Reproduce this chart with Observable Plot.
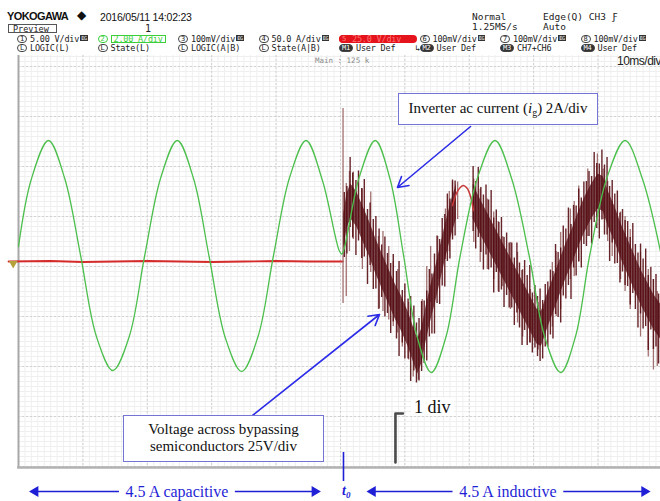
<!DOCTYPE html>
<html><head><meta charset="utf-8">
<script src="https://cdn.jsdelivr.net/npm/d3@7"></script>
<script src="https://cdn.jsdelivr.net/npm/@observablehq/plot@0.6"></script>
<style>
body{margin:0;background:#fff;overflow:hidden}
#wrap{position:relative;width:660px;height:501px;overflow:hidden;background:#fff}
.a{position:absolute;white-space:nowrap;line-height:1}
.m{font-family:"DejaVu Sans Mono",monospace;font-size:9px;color:#222}
.slot{position:absolute;white-space:nowrap;font-family:"DejaVu Sans Mono",monospace;font-size:8.5px;line-height:8px;height:8px;color:#222;letter-spacing:-0.2px}
.badge{display:inline-block;border:1px solid #444;border-radius:4px;font-size:7px;line-height:6px;height:6px;padding:0 2px;margin-right:3px;vertical-align:top}
.icon{display:inline-block;background:#333;color:#fff;font-size:5px;line-height:6px;height:6px;padding:0 1px;margin-left:1px;vertical-align:top}
.serif{font-family:"Liberation Serif","Times New Roman",serif;color:#111}
.box{position:absolute;background:#fff;border:1.5px solid #7474d6;box-sizing:border-box;text-align:center}
</style></head><body>
<div id="wrap">
  <div id="header"></div>
  <div id="chart" style="position:absolute;left:0;top:55px;width:660px"></div>
  <div class="a" style="left:315px;top:57px;font-family:'DejaVu Sans Mono',monospace;font-size:7.5px;color:#8a8a8a">Main : 125 k</div>
  <div class="a" style="left:617px;top:55px;font-family:'Liberation Sans',sans-serif;font-size:12px;letter-spacing:-0.5px;color:#222">10ms/div</div>
  <div class="box serif" style="left:398px;top:93px;width:200px;height:32px;line-height:29px;font-size:15px">Inverter ac current (<i>i</i><sub style="font-size:10px;vertical-align:-3px">g</sub>) 2A/div</div>
  <div class="box serif" style="left:123px;top:415px;width:201px;height:47px;line-height:17px;font-size:15px;padding-top:5px">Voltage across bypassing<br>semiconductors 25V/div</div>
  <div class="a serif" style="left:411px;top:398px;font-size:18px;background:#fff;padding:0 3px">1 div</div>
  <div class="a serif" style="left:342px;top:484px;font-size:14px;font-weight:bold;color:#1f1fd6"><i>t</i><sub style="font-size:9px;vertical-align:-3px"><i>0</i></sub></div>
</div>
<script>
// ---------- header texts ----------
const chanNum = ["1","2","3","4","5","6","7","8"];
const chanScale = ["5.00 V/div","2.00 A/div","100mV/div","50.0 A/div","25.0 V/div","100mV/div","100mV/div","100mV/div"];
const mathNum = ["L","L","L","L","M1","M2","M3","M4"];
const mathLabel = ["LOGIC(L)","State(L)","LOGIC(A|B)","State(A|B)","User Def","User Def","CH7+CH6","User Def"];

// ---------- traces (x in ms, 10 ms/div; y in divisions from screen centre) ----------
// Green: inverter ac current (2 A/div)
const greenT = [0, 2.0, 4.66, 7.2, 9.6, 12.1, 14.66, 17.2, 19.6, 22.1, 24.66, 27.2, 29.6, 32.1, 34.66, 37.2, 39.6, 42.1, 44.66, 47.2, 49.8, 50.2,
                52.9, 55.4, 57.7, 59.8, 61.9, 64.1, 66.4, 68.6, 71.3, 74.0, 76.6, 79.3, 81.7, 84.2, 86.5, 88.7, 91.4, 94.2, 96.9, 99.7];
const greenV = [0.40, 1.75, 2.52, 1.75, 0.25, -1.40, -2.08, -1.40, 0.22, 1.78, 2.52, 1.75, 0.20, -1.42, -2.10, -1.40, 0.22, 1.78, 2.52, 1.72, 0.32, 0.25,
                1.78, 2.52, 1.75, 0.22, -1.40, -2.12, -1.40, 0.22, 1.78, 2.52, 1.75, 0.22, -1.40, -2.12, -1.40, 0.22, 1.78, 2.52, 1.75, 0.30];
// Red: voltage across bypassing semiconductors (25 V/div), flat before t0
const redT = [-1.55, 5, 10, 15, 20, 25, 30, 35, 40, 45, 50.4];
const redV = [0.10, 0.11, 0.09, 0.10, 0.11, 0.10, 0.09, 0.10, 0.11, 0.10, 0.10];
// Dense core of the switching voltage after t0
const bandSeg = ["a","a","a","a","a","a","a","a","a","a","a","a","a","a","a","a","a","a","a","a","a","a",
                 "b","b","b","b","b","b","b","b","b","b","b","b","b","b","b","b","b","b","b","b","b","b","b","b","b","b","b","b","b","b","b"];
const bandT  = [50.5, 51.0, 51.6, 52.5, 53.5, 54.5, 55.5, 56.5, 57.5, 58.5, 59.5, 60.5, 61.3, 62.0, 62.6, 63.3, 64.0, 64.8, 65.6, 66.4, 67.2, 68.0,
                70.6, 71.5, 72.5, 73.5, 74.5, 75.5, 76.5, 77.5, 78.5, 79.5, 80.5, 81.2, 82.0, 83.0, 84.0, 85.0, 86.0, 87.0, 88.0, 89.0, 90.0, 90.8, 91.6, 92.6, 93.6, 94.6, 95.6, 96.6, 97.6, 98.6, 99.7];
const bandLo = [0.35, 0.75, 0.95, 0.8, 0.5, 0.2, -0.15, -0.45, -0.75, -1.05, -1.3, -1.6, -1.9, -2.15, -1.95, -1.5, -1.1, -0.7, -0.25, 0.2, 0.6, 0.95,
                0.95, 0.7, 0.45, 0.2, -0.05, -0.3, -0.55, -0.8, -1.05, -1.3, -1.55, -1.6, -1.3, -0.95, -0.6, -0.25, 0.05, 0.4, 0.7, 0.95, 1.15, 1.1, 0.8, 0.5, 0.15, -0.15, -0.45, -0.75, -1.0, -1.25, -1.45];
const bandHi = [1.05, 1.45, 1.65, 1.5, 1.2, 0.9, 0.55, 0.25, -0.05, -0.35, -0.6, -0.9, -1.2, -1.45, -1.25, -0.8, -0.4, 0.0, 0.45, 0.9, 1.3, 1.65,
                1.65, 1.4, 1.15, 0.9, 0.65, 0.4, 0.15, -0.1, -0.35, -0.6, -0.85, -0.9, -0.6, -0.25, 0.1, 0.45, 0.75, 1.1, 1.4, 1.65, 1.85, 1.8, 1.5, 1.2, 0.85, 0.55, 0.25, -0.05, -0.3, -0.55, -0.75];
// Dark switching ripple (dense vertical strokes)
const rippleT  = [50.6, 51.0, 51.5, 51.9, 52.4, 52.8, 53.3, 53.7, 54.2, 54.6, 55.1, 55.5, 56.0, 56.4, 56.9, 57.3, 57.8, 58.2, 58.7, 59.1, 59.6, 60.0, 60.5, 60.9,
                  61.4, 61.8, 62.2, 62.6, 63.0, 63.4, 63.8, 64.2, 64.6, 65.0, 65.4, 65.8, 66.2, 66.6, 67.0, 67.4, 67.8,
                  70.6, 71.0, 71.4, 71.8, 72.2, 72.6, 73.0, 73.4, 73.8, 74.2, 74.6, 75.0, 75.4, 75.8, 76.2, 76.6, 77.0, 77.4, 77.8, 78.2, 78.6, 79.0, 79.4, 79.8,
                  80.2, 80.6, 81.0, 81.4, 81.8, 82.2, 82.6, 83.0, 83.4, 83.8, 84.2, 84.6, 85.0, 85.4, 85.8, 86.2, 86.6, 87.0, 87.4, 87.8, 88.2, 88.6, 89.0, 89.4, 89.8,
                  90.2, 90.6, 91.0, 91.4, 91.8, 92.2, 92.6, 93.0, 93.4, 93.8, 94.2, 94.6, 95.0, 95.4, 95.8, 96.2, 96.6, 97.0, 97.4, 97.8, 98.2, 98.6, 99.0, 99.4];
const rippleLo = [0.18, 0.25, 0.78, 0.57, 0.22, 0.51, 0.16, 0.19, -0.36, 0.02, -0.46, -0.45, -0.85, -0.62, -1.01, -0.94, -1.34, -1.11, -1.45, -1.8, -1.53, -1.85, -1.85, -2.3,
                  -2.09, -2.33, -2.29, -2.1, -1.94, -1.89, -1.41, -1.35, -1.35, -0.74, -0.76, -0.39, -0.41, 0.1, 0.15, 0.53, 0.61,
                  0.70, 0.35, 0.58, 0.28, -0.07, 0.23, -0.07, -0.03, -0.53, -0.12, -0.52, -0.47, -0.82, -0.58, -0.83, -0.83, -1.18, -0.93, -1.23, -1.58, -1.28, -1.58, -1.53, -1.73,
                  -1.63, -1.8, -1.9, -1.85, -1.61, -1.61, -1.37, -1.45, -0.96, -1.02, -1.13, -0.59, -0.65, -0.38, -0.66, -0.03, -0.19, 0.1, -0.03, 0.44, 0.4, 0.6, 0.45, 0.88, 0.76,
                  0.55, 0.93, 0.63, 0.63, 0.1, 0.47, 0.05, 0.06, -0.33, -0.11, -0.38, -0.4, -0.77, -0.54, -0.86, -1.23, -0.95, -1.25, -1.2, -1.68, -1.27, -1.66, -1.61, -1.95];
const rippleHi = [1.48, 1.6, 2.18, 1.87, 1.72, 1.91, 1.56, 1.74, 1.14, 1.27, 0.94, 1.0, 0.75, 0.43, 0.59, 0.26, 0.06, 0.24, -0.1, 0.1, -0.48, -0.35, -0.65, -0.6,
                  -0.79, -1.13, -1.04, -0.7, -0.69, -0.49, -0.06, -0.15, 0.25, 0.61, 0.54, 0.96, 1.04, 1.45, 1.35, 1.73, 1.71,
                  2.0, 1.7, 1.98, 1.58, 1.43, 1.63, 1.33, 1.52, 0.97, 1.13, 0.88, 0.98, 0.58, 0.67, 0.47, 0.47, 0.17, 0.47, 0.07, -0.08, 0.12, -0.18, 0.02, -0.53,
                  -0.38, -0.6, -0.45, -0.68, -0.36, -0.31, -0.07, -0.1, 0.44, 0.28, 0.37, 0.81, 0.75, 1.17, 0.84, 1.22, 1.21, 1.55, 1.37, 1.69, 1.7, 1.9, 1.8, 2.28, 2.06,
                  2.05, 2.33, 2.03, 2.18, 1.6, 1.72, 1.45, 1.51, 1.07, 1.14, 0.92, 0.9, 0.58, 0.86, 0.44, 0.27, 0.45, 0.15, 0.35, -0.18, -0.02, -0.26, -0.16, -0.55];
// Tallest (lighter) switching spikes
const spikeT  = [50.4, 50.9, 51.4, 52.0, 53.4, 54.7, 55.9, 56.6, 57.5, 58.2, 58.9, 59.6, 60.6, 61.3, 62.1, 62.7, 63.4, 64.0, 65.1, 66.3, 66.9, 67.4, 68.2,
                 70.7, 71.7, 72.8, 73.8, 74.5, 75.2, 76.4, 77.5, 78.3, 79.5, 80.7, 81.5, 82.9, 83.5, 84.2, 85.7, 86.3, 87.0, 88.4, 89.9, 90.8, 91.5, 92.2, 93.5, 94.2, 95.0, 96.6, 97.8, 98.6, 99.2];
const spikeLo = [-0.74, -0.6, 0.3, 0.54, -0.06, -0.12, -0.86, -0.9, -1.07, -1.2, -1.33, -1.61, -1.87, -2.21, -2.27, -1.53, -1.2, -0.72, -0.26, 0.14, 0.3, 0.60, 0.94,
                 0.48, 0.08, -0.06, -0.26, -0.5, -0.40, -0.86, -1.13, -1.41, -1.53, -1.67, -1.41, -1.21, -1.0, -0.86, -0.26, -0.2, 0.08, 0.60, 1.15, 0.94, 0.5, 0.20, -0.26, -0.5, -0.86, -1.41, -1.81, -2.07, -2.0];
const spikeHi = [3.16, 1.66, 1.9, 1.89, 1.55, 1.49, 0.60, 0.7, 0.40, 0.1, -0.06, -0.66, -0.72, -1.21, -1.41, -0.66, 0.0, 0.40, 0.60, 1.15, 1.5, 1.69, 1.69,
                 1.75, 1.55, 1.35, 1.09, 0.9, 0.60, 0.48, 0.28, -0.06, -0.46, -0.72, -0.86, 0.08, 0.3, 0.68, 1.15, 1.3, 1.61, 1.95, 2.25, 1.95, 1.7, 1.29, 1.09, 1.0, 0.74, 0.28, -0.06, -0.26, -0.5];
// Non-switching arc of the red trace
const arcT = [67.4, 68.0, 68.6, 69.1, 69.7, 70.2, 70.65];
const arcV = [1.22, 1.46, 1.58, 1.62, 1.56, 1.40, 1.12];

// ---------- annotation texts ----------
const capLabel = "4.5 A capacitive";
const indLabel = "4.5 A inductive";

// ---------- header ----------
const header = document.getElementById("header");
function add(html, style, cls) {
  const d = document.createElement("div");
  d.className = cls || "a";
  d.setAttribute("style", style);
  d.innerHTML = html;
  header.appendChild(d);
  return d;
}
add("YOKOGAWA", "left:7px;top:11px;font-family:'Liberation Sans',sans-serif;font-weight:bold;font-size:11px;letter-spacing:-0.6px;color:#111");
add("&#9670;", "left:77px;top:9px;font-family:'DejaVu Sans',sans-serif;font-size:12px;color:#111");
add("2016/05/11 14:02:23", "left:100px;top:12px;font-family:'Liberation Sans',sans-serif;font-size:10.5px;letter-spacing:-0.2px;color:#111");
add("Preview", "left:8px;top:24px;width:49px;height:9px;box-sizing:border-box;border:1px solid #555;padding-left:4px;font-size:8.5px;line-height:8px", "a m");
add("1", "left:145px;top:24px;font-size:10px", "a m");
add("Normal", "left:472px;top:12px;font-size:9.5px", "a m");
add("1.25MS/s", "left:472px;top:22px;font-size:9.5px", "a m");
add("Edge(Q) CH3 &#401;", "left:543px;top:12px;font-size:9.5px", "a m");
add("Auto", "left:543px;top:22px;font-size:9.5px", "a m");
chanNum.forEach((n, i) => {
  const left = 17 + i * 80.5;
  let html, st = `left:${left}px;top:35px;`;
  if (i === 1) {
    html = `<span class="badge" style="border-color:#3ccf3c;color:#3ccf3c">${n}</span><span style="color:#3ccf3c;border:1px solid #3ccf3c;padding:0 2px;line-height:6px;display:inline-block;height:6px">${chanScale[i]}</span>`;
  } else if (i === 4) {
    html = `<span class="badge" style="border-color:#e5141c;color:#ff8080;background:#e5141c">${n}</span><span style="color:#ff7070">${chanScale[i]}</span>`;
    st += "background:#e5141c;border-radius:4px;width:78px;";
  } else {
    html = `<span class="badge">${n}</span>${chanScale[i]}<span class="icon">EG</span>`;
  }
  add(html, st, "slot");
  const mStyle = mathNum[i].startsWith("M") ? "background:#333;color:#fff;" : "";
  add(`<span class="badge" style="${mStyle}">${mathNum[i]}</span>${mathLabel[i]}${i === 4 ? "&nbsp;&nbsp;&nbsp;&nbsp;&#8627;" : ""}`, `left:${left}px;top:44px;`, "slot");
});

// ---------- tables for Plot ----------
const green = greenT.map((t, i) => ({t, v: greenV[i]}));
const redFlat = redT.map((t, i) => ({t, v: redV[i]}));
const band = bandT.map((t, i) => ({t, lo: bandLo[i], hi: bandHi[i], seg: bandSeg[i]}));
const ripple = rippleT.map((t, i) => ({t, lo: rippleLo[i], hi: rippleHi[i]}));
const spikes = spikeT.map((t, i) => ({t, lo: spikeLo[i], hi: spikeHi[i]}));
const arc = arcT.map((t, i) => ({t, v: arcV[i]}));

// grid positions (0.1 div minor, 1 div major)
const xMinor = d3.range(0, 100, 1);
const yMinor = d3.range(-40, 43).map(d => d / 10);
const xMajor = d3.range(0, 100, 10);
const yMajor = d3.range(-4, 5);

// annotation geometry (data units)
const callouts = [
  {x1: 70.2, y1: 2.80, x2: 58.85, y2: 1.58},
  {x1: 36.34, y1: -2.98, x2: 56.06, y2: -0.96}
];
const bracket = [{t: 59.7, v: -2.94}, {t: 58.54, v: -2.94}, {t: 58.54, v: -3.92}];
const bottomSegs = [
  {x1: 2.3, x2: 15.6}, {x1: 33.6, x2: 46.3},
  {x1: 54.7, x2: 67.4}, {x1: 84.6, x2: 97.5}
];
const heads = [
  {t: 2.6, rot: -90}, {t: 46.0, rot: 90},
  {t: 55.0, rot: -90}, {t: 97.2, rot: 90}
];
const labels = [{t: 24.6, text: capLabel}, {t: 76.0, text: indLabel}];
const blue = "#1f1fd6";

const chart = Plot.plot({
  width: 660, height: 446,
  marginTop: 0, marginRight: 0, marginBottom: 35, marginLeft: 18,
  x: {domain: [0, 99.7], axis: null},
  y: {domain: [-4, 4.22], axis: null},
  style: {background: "transparent", overflow: "visible"},
  marks: [
    Plot.ruleX(xMinor, {stroke: "#efefef", strokeWidth: 1}),
    Plot.ruleY(yMinor, {stroke: "#efefef", strokeWidth: 1}),
    Plot.ruleX(xMajor, {stroke: "#d2d2d2", strokeDasharray: "2,2"}),
    Plot.ruleY(yMajor, {stroke: "#d2d2d2", strokeDasharray: "2,2"}),
    Plot.ruleX([0], {y1: -4.04, y2: 4.22, stroke: "#a8a8a8", strokeWidth: 2}),
    Plot.ruleY([-4], {x1: -0.15, x2: 99.7, dy: 1, stroke: "#b2b2b2", strokeWidth: 2.5}),
    Plot.line(redFlat, {x: "t", y: "v", stroke: "#d42a2a", strokeWidth: 1.8}),
    Plot.ruleX(spikes, {x: "t", y1: "lo", y2: "hi", stroke: "#a27070", strokeWidth: 1.3}),
    Plot.areaY(band, {x: "t", y1: "lo", y2: "hi", z: "seg", fill: "#4e0a10", fillOpacity: 0.75}),
    Plot.ruleX(ripple, {x: "t", y1: "lo", y2: "hi", stroke: "#560c12", strokeWidth: 1.4, strokeOpacity: 0.9}),
    Plot.line(arc, {x: "t", y: "v", stroke: "#c83a3a", strokeWidth: 1.5, curve: "catmull-rom"}),
    Plot.line(green, {x: "t", y: "v", stroke: "#4cbf4c", strokeWidth: 1.3, curve: "catmull-rom"}),
    Plot.dot([{t: -0.82, v: 0.06}], {x: "t", y: "v", symbol: "triangle", rotate: 180, r: 3.2, fill: "#b3a23a"}),
    Plot.arrow(callouts, {x1: "x1", y1: "y1", x2: "x2", y2: "y2", stroke: "#2b2be8", strokeWidth: 1.6, headLength: 11}),
    Plot.line(bracket, {x: "t", y: "v", stroke: "#4a4a4a", strokeWidth: 2.6}),
    Plot.ruleX([50.47], {y1: -3.72, y2: -4.3, stroke: blue, strokeWidth: 1.6}),
    Plot.link(bottomSegs, {x1: "x1", x2: "x2", y1: -4.5, y2: -4.5, stroke: blue, strokeWidth: 1.3}),
    Plot.dot(heads, {x: "t", y: -4.5, symbol: "triangle", rotate: "rot", r: 4, fill: blue}),
    Plot.text(labels, {x: "t", y: -4.5, text: "text", fill: blue, fontSize: 16, fontFamily: "Liberation Serif, Times New Roman, serif"})
  ]
});
document.getElementById("chart").appendChild(chart);
</script>
</body></html>
